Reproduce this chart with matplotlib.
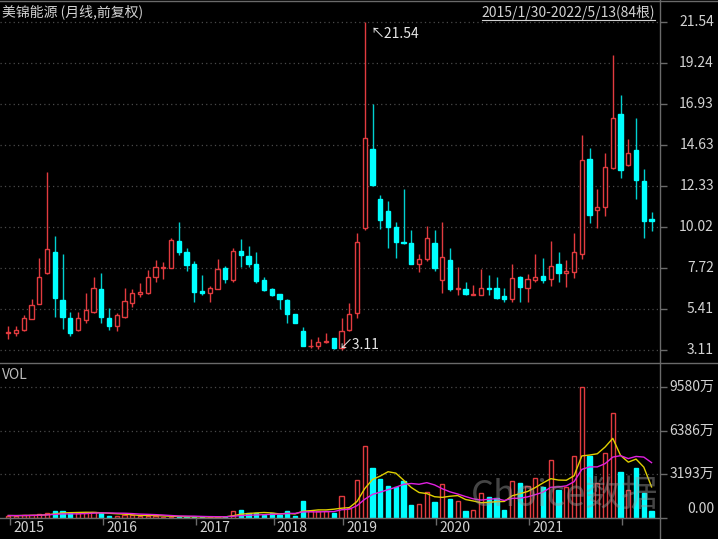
import numpy as np
import pandas as pd
import matplotlib
matplotlib.use("Agg")
import matplotlib.pyplot as plt
from matplotlib.lines import Line2D

plt.rcParams['font.family'] = ['Noto Sans CJK SC', 'DejaVu Sans']

W, H = 718, 539

# monthly OHLC (forward adjusted), 2015/01 .. 2022/05, 84 bars
open_ = [4.05, 4.08, 4.23, 4.85, 5.69, 7.45, 8.61, 5.92, 4.89, 4.23, 4.79, 5.26,
         6.52, 4.92, 4.46, 4.98, 5.76, 6.23, 6.32, 7.19, 7.72, 7.69, 9.23, 8.62,
         7.93, 6.40, 6.32, 6.52, 7.69, 7.07, 8.68, 8.42, 7.97, 7.04,
         6.53, 6.24, 5.92, 5.13, 4.18, 3.31, 3.35, 3.55, 3.77,
         3.20, 4.23, 5.17, 9.99, 14.39, 11.62, 10.91, 10.03, 9.20, 9.15, 7.97, 8.25,
         9.15, 7.04, 8.16, 6.55, 6.53, 6.22, 6.20, 6.62, 6.57, 6.16, 5.97, 7.19,
         6.62, 7.04, 7.26, 7.09, 7.93, 7.41, 7.50, 8.53, 13.86, 11.00, 11.15, 13.34,
         16.35, 13.53, 14.37, 12.61, 10.45]
high = [4.47, 4.44, 5.07, 5.97, 8.29, 13.11, 9.51, 8.48, 5.23, 5.23, 6.29, 7.22,
        7.41, 5.45, 5.17, 6.57, 6.52, 6.85, 7.60, 8.16, 8.06, 9.43, 10.31, 8.82,
        8.10, 7.32, 6.70, 8.20, 7.82, 8.82, 9.32, 8.94, 8.62, 7.22,
        6.57, 6.24, 5.97, 5.13, 4.38, 3.73, 3.86, 4.08, 3.77,
        4.89, 5.73, 9.71, 21.54, 16.95, 11.81, 11.47, 10.31, 12.18, 9.84, 8.53, 10.08,
        9.84, 10.31, 8.82, 7.75, 6.94, 6.76, 7.64, 7.32, 7.22, 6.57, 7.97, 7.26,
        7.37, 8.50, 8.29, 9.24, 8.59, 8.19, 9.71, 15.21, 14.48, 12.14, 14.20, 19.66,
        17.42, 14.95, 16.16, 13.30, 10.87]
low = [3.71, 3.91, 4.17, 4.85, 5.69, 7.37, 4.98, 4.29, 3.91, 4.20, 4.61, 5.17,
       4.61, 4.23, 4.19, 4.89, 5.51, 6.10, 6.23, 6.94, 7.08, 7.69, 8.44, 7.56,
       5.79, 6.20, 5.79, 6.52, 6.89, 6.94, 7.75, 7.78, 6.85, 6.44,
       6.14, 5.39, 4.61, 4.61, 3.33, 3.24, 3.15, 3.49, 3.15,
       3.11, 4.18, 4.92, 9.84, 12.33, 9.90, 8.85, 8.29, 9.07, 7.92, 7.47, 8.10,
       7.54, 6.29, 6.44, 6.20, 6.20, 6.20, 6.20, 6.20, 5.97, 5.79, 5.82, 5.79,
       5.82, 6.94, 6.85, 6.70, 6.94, 6.66, 7.17, 8.25, 10.22, 9.94, 10.64, 13.30,
       12.80, 13.43, 11.62, 9.38, 9.79]
close = [4.10, 4.23, 4.92, 5.62, 7.21, 8.76, 6.04, 4.96, 4.08, 4.89, 5.34, 6.57,
         4.98, 4.46, 5.09, 5.88, 6.32, 6.38, 7.22, 7.75, 7.78, 9.28, 8.59, 7.88,
         6.38, 6.33, 6.61, 7.64, 7.09, 8.68, 8.44, 7.97, 6.98, 6.48,
         6.20, 5.95, 5.11, 4.61, 3.35, 3.35, 3.58, 3.60, 3.20,
         4.18, 5.11, 9.19, 15.02, 12.41, 10.40, 10.03, 9.19, 9.13, 7.97, 8.25, 9.41,
         7.73, 8.31, 6.53, 6.62, 6.24, 6.27, 6.57, 6.55, 6.01, 5.95, 7.13, 6.66,
         7.08, 7.22, 7.07, 7.82, 7.45, 7.54, 8.62, 13.81, 10.68, 11.15, 13.39, 16.14,
         13.25, 14.20, 12.69, 10.35, 10.38]
# monthly volume, 万股
vol = [180, 170, 200, 220, 260, 330, 490, 540, 330, 330, 400, 450,
       400, 150, 150, 250, 220, 160, 160, 120, 100, 100, 80, 80,
       70, 60, 80, 100, 100, 490, 610, 330, 330, 250,
       330, 250, 540, 120, 1220, 540, 540, 540, 370,
       1590, 750, 2810, 5260, 3670, 2860, 2320, 2300, 2690, 980, 1030, 1930,
       1150, 2450, 1400, 1270, 490, 610, 1810, 1570, 1470, 590, 2670, 2590,
       2370, 2910, 2300, 4210, 2080, 2300, 4530, 9580, 4530, 2550, 4750, 7710,
       3350, 2060, 3670, 1810, 490]

years = ["2015", "2016", "2017", "2018", "2019", "2020", "2021", "2022"]
year_start = [0, 12, 24, 34, 43, 55, 67, 79]
price_ticks = [3.11, 5.41, 7.72, 10.02, 12.33, 14.63, 16.93, 19.24, 21.54]
vol_ticks = [0, 3193, 6386, 9580]
vol_labels = ["0.00", "3193万", "6386万", "9580万"]

RED = '#e23b3f'
CYAN = '#00ffff'
CYAN_W = '#00d0d0'
GRID = '#4a4a4a'
LINE = '#6a6a6a'
TXT = '#d2d2d2'


def box(l, t, r, b):
    return [l / W, 1 - b / H, (r - l) / W, (b - t) / H]


def fx(x):
    return x / W


def fy(y):
    return 1 - y / H


fig = plt.figure(figsize=(W / 100, H / 100), dpi=100, facecolor='black')
ax = fig.add_axes(box(0, 2, 660, 362))
axv = fig.add_axes(box(0, 363, 660, 518))

for a in (ax, axv):
    a.set_facecolor('black')
    for s in a.spines.values():
        s.set_visible(False)
    a.set_xlim(-1.07, 84.09)

ax.set_ylim(2.436, 22.665)
axv.set_ylim(0, 11335)

x = np.arange(len(close))
o = np.array(open_)
c = np.array(close)
up = c >= o

# --- candles
for i in x:
    col = RED if up[i] else CYAN
    ax.vlines(i, low[i], high[i], color=RED if up[i] else CYAN_W, lw=1, zorder=2)
    bot = min(o[i], c[i])
    h = max(abs(c[i] - o[i]), 0.04)
    ax.bar(i, h, bottom=bot, width=0.56, facecolor='black' if up[i] else CYAN,
           edgecolor=col, lw=1, zorder=3)

# --- volume bars
for i in x:
    col = RED if up[i] else CYAN
    axv.bar(i, vol[i], width=0.56, facecolor='black' if up[i] else CYAN,
            edgecolor=col, lw=1, zorder=3)

vs = pd.Series(vol, dtype=float)
axv.plot(x, vs.rolling(5, min_periods=1).mean(), color='#e0d000', lw=1, zorder=4)
axv.plot(x, vs.rolling(10, min_periods=1).mean(), color='#e020e0', lw=1, zorder=4)

# --- grids and ticks
for v in price_ticks:
    ax.axhline(v, color=GRID, lw=0.9, ls=(0, (1, 2.5)), zorder=1)
    ax.annotate(f"{v:.2f}", xy=(714, v), xycoords=('figure pixels', 'data'),
                ha='right', va='center', fontsize=10, color=TXT)
for v in vol_ticks[1:]:
    axv.axhline(v, color=GRID, lw=0.9, ls=(0, (1, 2.5)), zorder=1)
for v, lab in zip(vol_ticks, vol_labels):
    dy = 9 if v == 0 else 0
    axv.annotate(lab, xy=(714, v), xycoords=('figure pixels', 'data'),
                 xytext=(0, dy), textcoords='offset pixels',
                 ha='right', va='center', fontsize=10, color=TXT)

ax.set_yticks(price_ticks)
ax.tick_params(axis='y', left=False, right=True, labelleft=False, labelright=False,
               direction='out', length=5, color=LINE, width=1)
ax.tick_params(axis='x', bottom=False, labelbottom=False)
axv.set_yticks(vol_ticks)
axv.tick_params(axis='y', left=False, right=True, labelleft=False, labelright=False,
                direction='out', length=5, color=LINE, width=1)
axv.set_xticks([s + 0.25 for s in year_start])
axv.tick_params(axis='x', bottom=True, labelbottom=False, direction='out',
                length=5, color=LINE, width=1)

for s, yr in zip(year_start, years):
    if yr == "2022":
        continue
    axv.annotate(yr, xy=(s + 0.25, 0), xycoords=('data', 'axes fraction'),
                 xytext=(3, -10), textcoords='offset pixels',
                 ha='left', va='center', fontsize=10, color=TXT)

# --- frame lines
fig.add_artist(Line2D([0, 1], [fy(1), fy(1)], color=LINE, lw=1))
fig.add_artist(Line2D([0, 1], [fy(363), fy(363)], color=LINE, lw=1))
fig.add_artist(Line2D([fx(660), fx(660)], [0, 1], color=LINE, lw=1))
fig.add_artist(Line2D([0, fx(660)], [fy(518), fy(518)], color=LINE, lw=1))

# --- texts
fig.text(fx(2), fy(12), "美锦能源 (月线,前复权)", ha='left', va='center',
         fontsize=10, color=TXT)
t = fig.text(fx(655), fy(12), "2015/1/30-2022/5/13(84根)", ha='right', va='center',
             fontsize=10, color=TXT)
fig.text(fx(2), fy(375), "VOL", ha='left', va='center', fontsize=10, color='#bbbbbb')

fig.canvas.draw()
bb = t.get_window_extent()
fig.add_artist(Line2D([bb.x0 / W, bb.x1 / W], [fy(20), fy(20)], color=TXT, lw=0.8))

# max / min markers
imax = int(np.argmax(high))
imin = int(np.argmin(low))
ax.annotate("↖21.54", xy=(imax, high[imax]), xytext=(6, -12), textcoords='offset pixels',
            ha='left', va='center', fontsize=10, color='#e6e6e6')
ax.annotate("↙3.11", xy=(imin, low[imin]), xytext=(-3, 5), textcoords='offset pixels',
            ha='left', va='center', fontsize=10, color='#e6e6e6')

# watermark
fig.text(fx(565), fy(496), "Choice数据", ha='center', va='center', fontsize=26,
         color='#9a9a9a', alpha=0.45)

fig.savefig("out.png", dpi=100, facecolor='black')
